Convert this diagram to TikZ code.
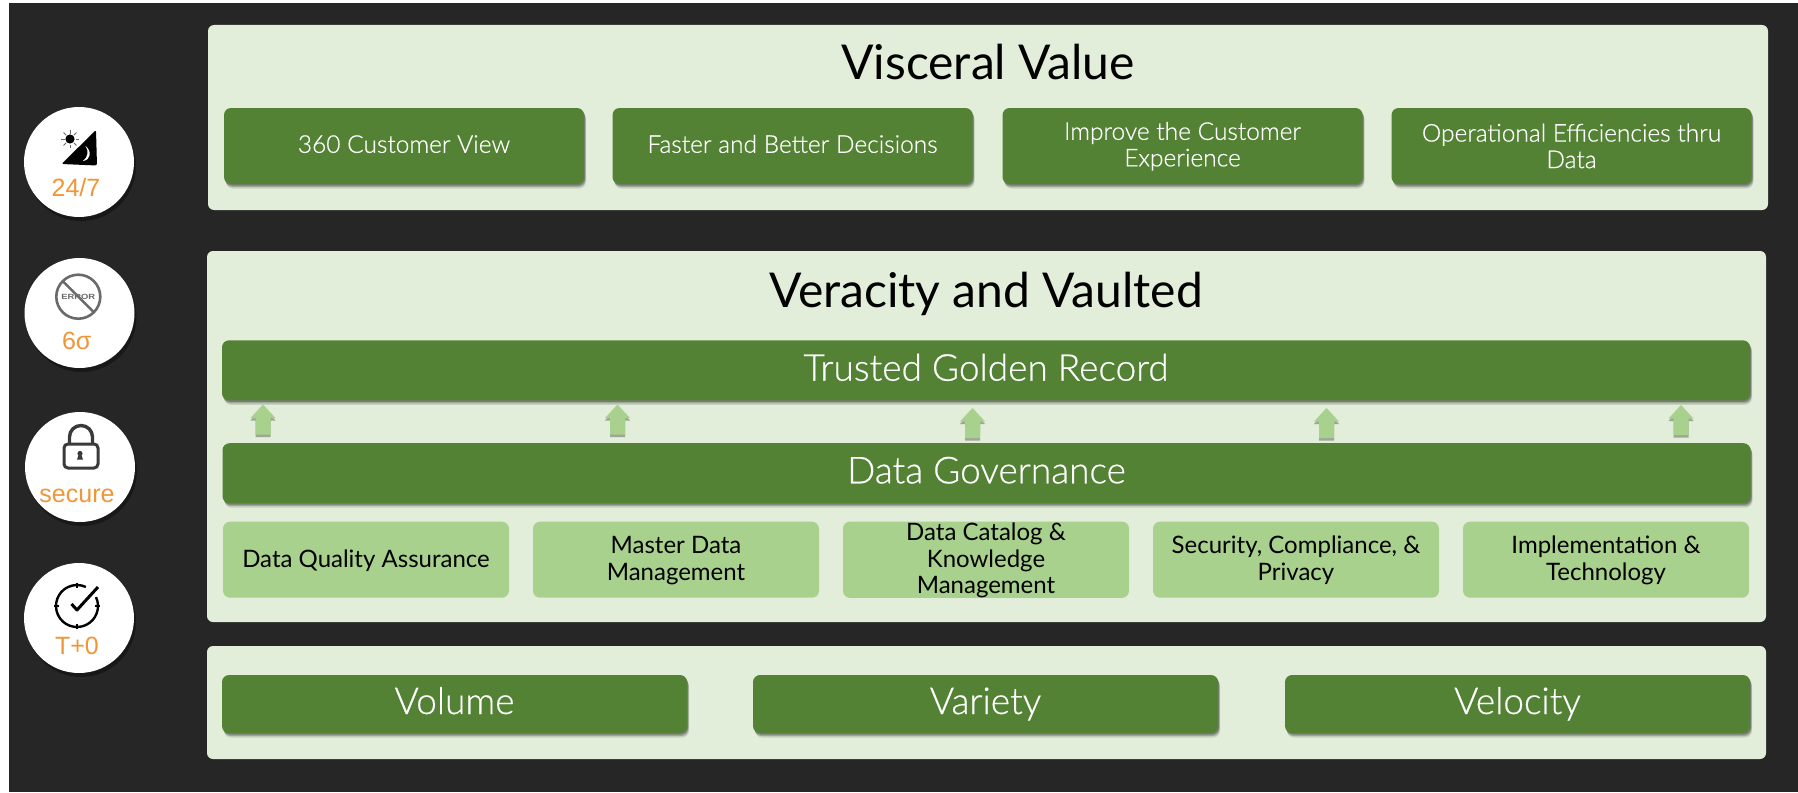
\documentclass[tikz,border=0pt]{standalone}
\usepackage{fontspec}
\setmainfont{Lato}
\newfontfamily\lightfont[FakeBold=0.5]{Lato Light}
\newfontfamily\labelfont{Liberation Sans}
\usetikzlibrary{shadows}
\definecolor{bgdark}{HTML}{262626}
\definecolor{panelgreen}{HTML}{E2EED9}
\definecolor{bargreen}{HTML}{548235}
\definecolor{subgreen}{HTML}{A9D18E}
\definecolor{tagorange}{HTML}{F09636}
\definecolor{icongray}{HTML}{6A6A6A}
\definecolor{lockgray}{HTML}{3A3A3A}
\newcommand{\fs}[1]{\fontsize{#1}{#1}\selectfont}
\newcommand{\onbase}[2]{\raisebox{-#1pt}[0pt][0pt]{#2}}
\tikzset{
  softshadow/.style={
     drop shadow={shadow xshift=2pt,shadow yshift=-4.5pt,opacity=.12,fill=black},
     drop shadow={shadow xshift=1.5pt,shadow yshift=-3pt,opacity=.2,fill=black},
     drop shadow={shadow xshift=1pt,shadow yshift=-1.5pt,opacity=.25,fill=black}},
  panelbox/.style={fill=panelgreen,rounded corners=6pt,inner sep=0pt},
  paneltitle/.style={inner sep=0pt,text=black,font=\fs{48}},
  barbox/.style={fill=bargreen,rounded corners=7pt,inner sep=0pt,text=white,align=center,softshadow},
  valuebox/.style={barbox,minimum width=360pt,minimum height=76pt,font=\lightfont\fontsize{24.5}{26.5}\selectfont},
  widebar/.style={barbox,minimum width=1528pt,minimum height=60pt,font=\lightfont\fs{37}},
  threebar/.style={barbox,minimum width=465pt,minimum height=58pt,font=\lightfont\fs{37}},
  subbox/.style={fill=subgreen,rounded corners=7pt,inner sep=0pt,text=black,align=center,
     minimum width=286pt,minimum height=76pt,font=\fontsize{24}{26.5}\selectfont},
  uparrow/.style={fill=subgreen,
     drop shadow={shadow xshift=0pt,shadow yshift=-2.5pt,opacity=.3,fill=black}},
  badge/.style={circle,fill=white,minimum size=110pt,inner sep=0pt,
     drop shadow={shadow xshift=2pt,shadow yshift=-4pt,opacity=.35,fill=black}},
  tag/.style={inner sep=0pt,text=tagorange,font=\labelfont\fs{25}},
}
\begin{document}
\begin{tikzpicture}[x=1pt,y=-1pt]
\useasboundingbox (0,0) rectangle (1798,792);
\fill[white] (0,0) rectangle (1798,792);
\fill[bgdark] (9,3) rectangle (1798,792);

% panels
\node[panelbox,minimum width=1560pt,minimum height=185pt] (pValue) at (988,117.5) {};
\node[panelbox,minimum width=1559pt,minimum height=371pt] (pVeracity) at (986.5,436.5) {};
\node[panelbox,minimum width=1559pt,minimum height=113pt] (pVolume) at (986.5,702.5) {};

\node[paneltitle] (tValue) at (988,62) {Visceral Value};
\node[paneltitle] (tVeracity) at (986,294) {Veracity and Vaulted};

% value boxes
\node[valuebox] (v1) at (404,146) {\onbase{6.8}{360 Customer View}};
\node[valuebox] (v2) at (792.5,146) {\onbase{6.8}{Faster and Better Decisions}};
\node[valuebox] (v3) at (1182.5,146) {\rule{0pt}{18.5pt}Improve the Customer\\Experience};
\node[valuebox] (v4) at (1571.5,146) {Operational Efficiencies thru\\Data};

% bars
\node[widebar] (golden) at (986,370.3) {\onbase{10.4}{Trusted Golden Record}};
\node[widebar] (gov) at (986.5,473.2) {\onbase{10.1}{Data Governance}};

% block arrows from Data Governance up to the golden record
\foreach \x/\y in {263/404.5,617.5/404.5,972.5/408,1326.5/408,1681/405}
  \path[uparrow] (\x,\y) -- ++(12.5,13.5) -- ++(-5,0) -- ++(0,16.5) -- ++(-15,0) -- ++(0,-16.5) -- ++(-5,0) -- cycle;

% sub boxes
\node[subbox] (s1) at (366,559.7) {\onbase{8}{Data Quality Assurance}};
\node[subbox] (s2) at (676,559.7) {\rule{0pt}{18.5pt}Master Data\\Management};
\node[subbox] (s3) at (986,559.7) {\rule{0pt}{19pt}Data Catalog \&\\Knowledge\\Management};
\node[subbox] (s4) at (1296,559.7) {\rule{0pt}{18.5pt}Security, Compliance, \&\\Privacy};
\node[subbox] (s5) at (1606,559.7) {\rule{0pt}{18.5pt}Implementation \&\\Technology};

% bottom bars
\node[threebar] (b1) at (454.5,704) {\onbase{10}{Volume}};
\node[threebar] (b2) at (985.5,704) {\onbase{10}{Variety}};
\node[threebar] (b3) at (1517.5,704) {\onbase{10}{Velocity}};

% badges
\node[badge] (c1) at (79,162) {};
\node[badge] (c2) at (79.5,313) {};
\node[badge] (c3) at (80,467) {};
\node[badge] (c4) at (79,618) {};

\node[tag] (l1) at (76,188) {24/7};
\node[tag] (l2) at (76.7,341) {6σ};
\node[tag] (l3) at (77,495.5) {secure};
\node[tag] (l4) at (77,646) {T+0};

% icon: day and night
\fill[black,rounded corners=2pt] (96,130) -- (61.5,164) -- (97,165.5) -- cycle;
\fill[white] (85.5,146) .. controls (92,151) and (91,160) .. (83,161)
   .. controls (88,157) and (89,151) .. (85.5,146) -- cycle;
\fill[black] (70,139) circle (4.6);
\foreach \a in {0,45,...,315}
  \draw[icongray,line width=.9pt] (70,139) ++(\a:5.5) -- ++(\a:3.6);

% icon: no error
\draw[icongray,line width=2.6pt] (78.3,296.7) circle (22);
\node[inner sep=0pt,text=icongray,font=\labelfont\bfseries\fs{7.5},xscale=1.25] (errtxt) at (78.3,296.7) {ERROR};
\draw[icongray,line width=2.6pt] (62.8,281.2) -- (93.8,312.2);

% icon: lock
\draw[lockgray,line width=3pt,rounded corners=4pt] (64,444) rectangle (98,468);
\draw[lockgray,line width=3.4pt] (69.5,443) -- (69.5,437) arc[start angle=180,end angle=360,radius=11.5] -- (92.5,443);
\fill[lockgray] (80,453.5) circle (2.6);
\fill[lockgray] (77,459.5) -- (83,459.5) -- (81,453.5) -- (79,453.5) -- cycle;

% icon: clock
\draw[black,line width=2.4pt] (96.03,597.13) arc[start angle=-25,end angle=295,radius=21];
\foreach \dx/\dy in {0/-1,1/0,0/1,-1/0}
  \draw[black,line width=2.2pt] (77+\dx*23,606+\dy*23) -- ++(-\dx*5,-\dy*5);
\draw[black,line width=3pt,line join=round] (71.5,604) -- (77,610) -- (98,587);
\end{tikzpicture}
\end{document}
